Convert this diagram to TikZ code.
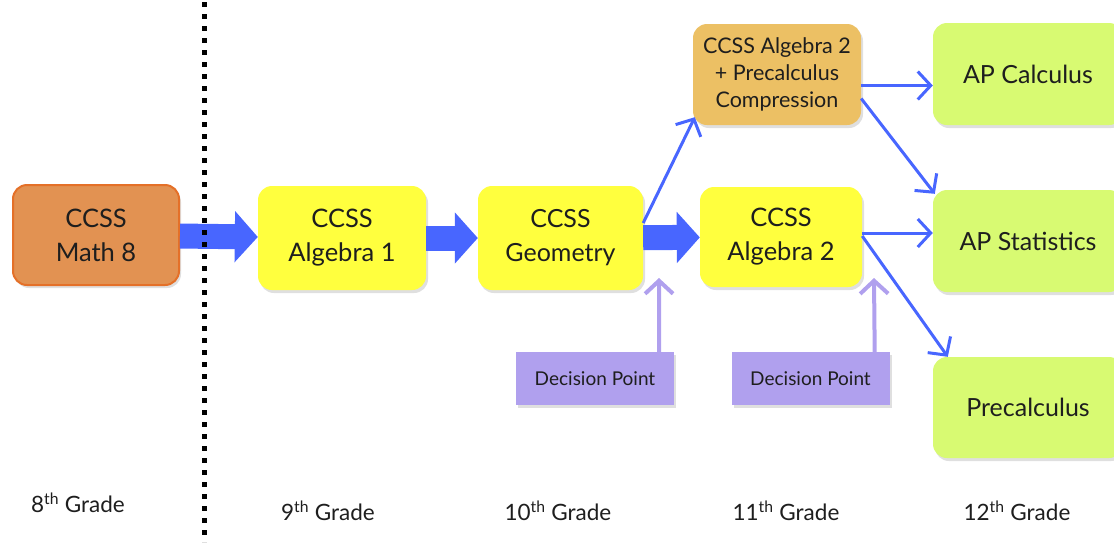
\documentclass[tikz,border=0pt]{standalone}
\usepackage{fontspec}
\setmainfont{Lato}
\usetikzlibrary{arrows.meta,shadows}

\definecolor{mathorange}{RGB}{226,146,82}
\definecolor{mathedge}{RGB}{228,112,40}
\definecolor{courseyellow}{RGB}{255,255,62}
\definecolor{compresstan}{RGB}{236,192,100}
\definecolor{apgreen}{RGB}{216,250,114}
\definecolor{decisionpurple}{RGB}{176,160,238}
\definecolor{flowblue}{RGB}{72,102,255}
\definecolor{textdark}{RGB}{30,30,30}

\begin{document}
\begin{tikzpicture}[x=1pt,y=-1pt,
	course/.style={rounded corners=14pt, inner sep=0pt, align=center, text=textdark,
		drop shadow={opacity=0.25, shadow xshift=2pt, shadow yshift=-3pt}},
	decision/.style={fill=decisionpurple, inner sep=0pt, text=textdark,
		minimum width=158pt, minimum height=53pt, font=\fontsize{19}{22}\selectfont,
		drop shadow={opacity=0.25, shadow xshift=2pt, shadow yshift=-3pt}},
	fat/.style={flowblue, line width=25pt, -{Triangle[length=23pt,width=50pt]}},
	thin/.style={flowblue, line width=3pt, -{Straight Barb[length=13pt,width=28pt,line width=3pt]}},
	pick/.style={decisionpurple, line width=4pt, -{Straight Barb[length=13pt,width=28pt,line width=4pt]}},
	grade/.style={text=textdark, font=\fontsize{22.5}{26}\selectfont}]
	\useasboundingbox (0,0) rectangle (1114,542);

	%courses
	\node[course, fill=mathorange, draw=mathedge, line width=2pt, minimum width=166pt, minimum height=100pt,
		font=\fontsize{25.5}{34}\selectfont] (m8) at (96,235) {CCSS\\Math 8};
	\node[course, fill=courseyellow, minimum width=168pt, minimum height=104pt,
		font=\fontsize{25.5}{34}\selectfont] (a1) at (342,238) {CCSS\\Algebra 1};
	\node[course, fill=courseyellow, minimum width=165pt, minimum height=104pt,
		font=\fontsize{25}{34}\selectfont] (geo) at (560.5,238) {CCSS\\Geometry};
	\node[course, fill=courseyellow, minimum width=162pt, minimum height=100pt,
		font=\fontsize{25.5}{34}\selectfont] (a2) at (781,237) {CCSS\\Algebra 2};
	\node[course, fill=compresstan, minimum width=168pt, minimum height=101pt,
		font=\fontsize{21.5}{27}\selectfont] (comp) at (777,74.5) {CCSS Algebra 2\\+ Precalculus\\Compression};
	\node[course, fill=apgreen, minimum width=190pt, minimum height=102pt,
		font=\fontsize{25}{30}\selectfont] (apc) at (1028,74) {AP Calculus};
	\node[course, fill=apgreen, minimum width=190pt, minimum height=102pt,
		font=\fontsize{25}{30}\selectfont] (aps) at (1028,241) {AP Statistics};
	\node[course, fill=apgreen, minimum width=190pt, minimum height=101pt,
		font=\fontsize{25}{30}\selectfont] (pc) at (1028,407.5) {Precalculus};

	%decision points
	\node[decision] (dp1) at (595,378.5) {Decision Point};
	\node[decision] (dp2) at (810.5,378.5) {Decision Point};
	\coordinate (dp1tip) at (659,278);
	\coordinate (dp2tip) at (874,278);

	%grades
	\node[grade] (g8) at (78,503) {8\textsuperscript{th} Grade};
	\node[grade] (g9) at (328,511) {9\textsuperscript{th} Grade};
	\node[grade] (g10) at (558,511) {10\textsuperscript{th} Grade};
	\node[grade] (g11) at (786,511) {11\textsuperscript{th} Grade};
	\node[grade] (g12) at (1017,511) {12\textsuperscript{th} Grade};

	%arrows
	\draw[fat] (m8) -- (a1);
	\draw[fat] (a1) -- (geo);
	\draw[fat] (geo) -- (a2);
	\draw[thin] ([yshift=15pt]geo.east) -- ([shift={(2pt,8pt)}]comp.south west);
	\draw[thin] ([yshift=-11pt]comp.east) -- ([yshift=-11pt]comp.east -| apc.west);
	\draw[thin] ([yshift=-24pt]comp.east) -- ([shift={(2pt,-4pt)}]aps.north west);
	\draw[thin] ([yshift=4pt]a2.east) -- ([yshift=4pt]a2.east -| aps.west);
	\draw[thin] ([yshift=1pt]a2.east) -- ([xshift=15pt]pc.north west);
	\draw[pick] ([xshift=-15pt]dp1.north east) -- (dp1tip);
	\draw[pick] ([xshift=-15pt]dp2.north east) -- (dp2tip);

	%divider
	\draw[line width=5pt, dash pattern=on 5pt off 7pt] (204,2) -- (204,542);
\end{tikzpicture}
\end{document}
